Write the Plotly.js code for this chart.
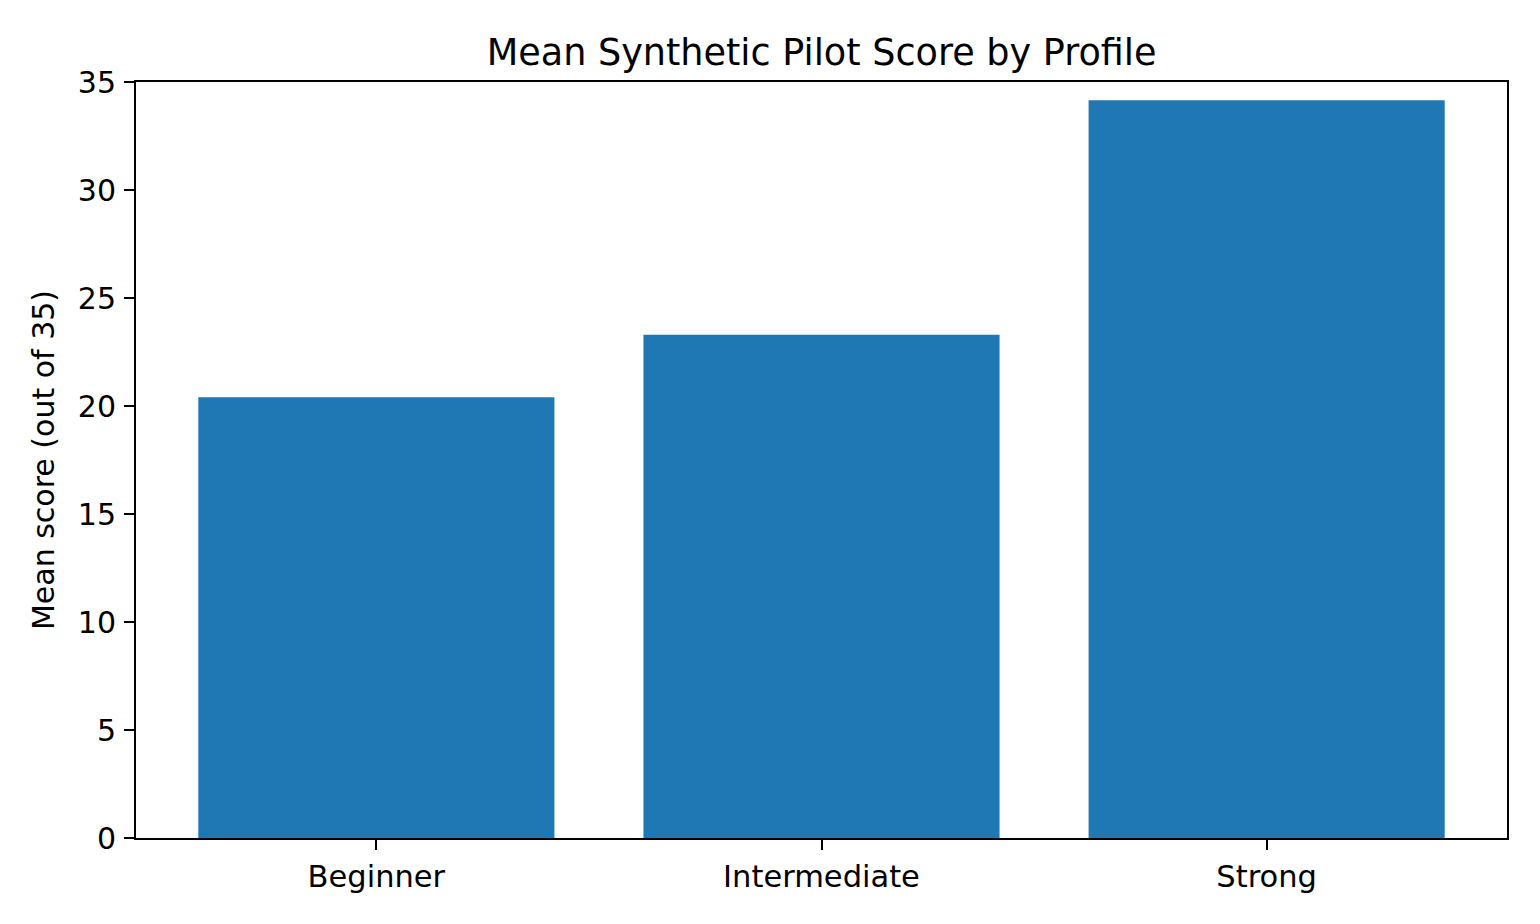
<!DOCTYPE html>
<html>
<head>
<meta charset="utf-8">
<script src="https://cdn.plot.ly/plotly-3.0.1.min.js"></script>
<style>html,body{margin:0;padding:0;background:#fff;}#chart{width:1540px;height:924px;}</style>
</head>
<body>
<div id="chart"></div>
<script>
const categories = ["Beginner", "Intermediate", "Strong"];
const meanScores = [20.4, 23.3, 34.15];
const yTicks = [0, 5, 10, 15, 20, 25, 30, 35];

const font = "DejaVu Sans, Liberation Sans, sans-serif";

const data = [{
  type: "bar",
  x: categories,
  y: meanScores,
  width: 0.8,
  marker: {color: "#1f77b4", line: {width: 0}},
  hoverinfo: "x+y"
}];

const layout = {
  width: 1540,
  height: 924,
  paper_bgcolor: "#ffffff",
  plot_bgcolor: "#ffffff",
  margin: {l: 136, r: 33, t: 82, b: 86, pad: 0},
  showlegend: false,
  font: {family: font, color: "#000000", size: 30},
  title: {
    text: "Mean Synthetic Pilot Score by Profile",
    font: {family: font, size: 36.6, color: "#000000"},
    x: 0.5335, xanchor: "center",
    y: 0.944, yanchor: "middle"
  },
  xaxis: {
    type: "category",
    range: [-0.54, 2.54],
    showgrid: false,
    zeroline: false,
    showline: true,
    linecolor: "#000000",
    linewidth: 2,
    mirror: true,
    ticks: "outside",
    ticklen: 10,
    tickwidth: 2,
    tickcolor: "#000000",
    tickfont: {family: font, size: 30.5, color: "#000000"}
  },
  yaxis: {
    range: [0, 35],
    tickvals: yTicks,
    ticktext: yTicks.map(String),
    showgrid: false,
    zeroline: false,
    showline: true,
    linecolor: "#000000",
    linewidth: 2,
    mirror: true,
    ticks: "outside",
    ticklen: 10,
    tickwidth: 2,
    tickcolor: "#000000",
    ticklabelstandoff: 2,
    tickfont: {family: font, size: 30, color: "#000000"},
    title: {
      text: "Mean score (out of 35)",
      font: {family: font, size: 30, color: "#000000"},
      standoff: 14
    }
  },
  bargap: 0.2
};

Plotly.newPlot("chart", data, layout, {displayModeBar: false, staticPlot: true});
</script>
</body>
</html>
